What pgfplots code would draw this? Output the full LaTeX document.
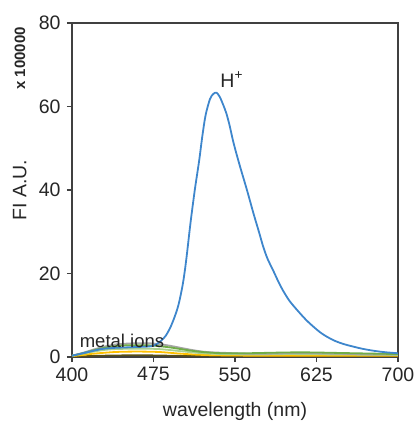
\documentclass[border=0pt]{standalone}
\usepackage{pgfplots}
\pgfplotsset{compat=1.18}
\usepackage{fontspec}
\setmainfont{Liberation Sans}
\definecolor{hblue}{RGB}{62,134,204}
\definecolor{mgray}{RGB}{165,165,165}
\definecolor{mgreen}{RGB}{112,173,71}
\definecolor{mlgreen}{RGB}{169,209,142}
\definecolor{myellow}{RGB}{255,192,0}
\definecolor{mdark}{RGB}{90,80,20}
\definecolor{axgray}{RGB}{64,64,64}
\begin{document}
\begin{tikzpicture}
\useasboundingbox (-72pt,-69pt) rectangle (345pt,357pt);
\begin{axis}[
  at={(0pt,0pt)}, anchor=south west,
  width=326pt, height=334pt, scale only axis,
  xmin=400, xmax=700, ymin=0, ymax=80,
  xtick={400,475,550,625,700}, ytick={0,20,40,60,80},
  tick align=outside, xtick pos=left, ytick pos=left,
  major tick length=5pt,
  axis line style={axgray, line width=1.2pt},
  every tick/.style={axgray, line width=1.2pt},
  tick label style={font=\fontsize{19.5}{23}\selectfont, text=black!85},
  xticklabel style={yshift=-2pt},
  yticklabel style={xshift=-3pt},
  /pgf/number format/assume math mode=true,
  xlabel={wavelength (nm)}, ylabel={FI A.U.},
  label style={font=\fontsize{19.5}{23}\selectfont, text=black!85},
  xlabel style={at={(axis description cs:0.5,-0.162)}, anchor=center},
  ylabel style={at={(axis description cs:-0.16,0.5)}, anchor=center},
  clip=false,
]
\addplot[mdark, line width=1.5pt, smooth] coordinates {(400,0.1)(420,0.3)(440,0.4)(460,0.45)(480,0.4)(500,0.3)(550,0.2)(600,0.2)(650,0.2)(700,0.2)};
\addplot[myellow, line width=1.8pt, smooth] coordinates {(400,0.2)(410,0.5)(420,0.8)(440,1.2)(460,1.3)(480,1.2)(500,0.8)(520,0.5)(550,0.35)(600,0.3)(650,0.3)(700,0.3)};
\addplot[mlgreen, line width=1.8pt, smooth] coordinates {(400,0.3)(410,0.8)(420,1.3)(430,1.7)(440,1.9)(460,2.0)(480,1.9)(500,1.4)(520,0.9)(540,0.7)(570,0.6)(600,0.7)(650,0.6)(700,0.5)};
\addplot[mgray, line width=1.8pt, smooth] coordinates {(400,0.3)(410,1.0)(420,1.8)(430,2.5)(440,3.0)(450,3.2)(460,3.3)(470,3.3)(480,3.1)(490,2.7)(500,2.2)(510,1.7)(520,1.3)(530,1.1)(540,1.0)(560,0.8)(580,0.8)(600,0.9)(620,0.9)(640,0.8)(660,0.7)(680,0.6)(700,0.6)};
\addplot[mgreen, line width=1.8pt, smooth] coordinates {(400,0.3)(410,0.9)(420,1.6)(430,2.2)(440,2.6)(450,2.8)(460,2.8)(470,2.8)(480,2.6)(490,2.3)(500,1.9)(510,1.5)(520,1.2)(530,1.0)(540,0.9)(560,0.9)(580,1.0)(600,1.1)(620,1.1)(640,1.0)(660,0.9)(680,0.8)(700,0.7)};
\addplot[hblue, line width=1.8pt, smooth] coordinates {
(400,0.3)(405,0.6)(410,0.9)(415,1.2)(420,1.5)(425,1.8)(430,2.0)(440,2.2)(450,2.3)(460,2.4)(470,2.5)(475,2.7)(478,3.1)(482,3.9)(486,5.0)(490,6.8)(494,9.3)(498,12.5)(502,17.5)(505,23)(509,32)(513,40)(517,47)(520,53)(523,58)(527,61.8)(530,63)(533,63.3)(536,62.3)(539,60.5)(542,58.4)(545,55.5)(548,52)(551,49)(555,45.3)(561,40)(567,34.4)(572,30)(576,26.4)(580,23.5)(585,20.8)(590,18)(594,16)(600,13.5)(607,11.3)(615,9)(622,7.3)(630,5.6)(640,4.1)(650,3.1)(665,2.1)(675,1.6)(683,1.3)(690,1.1)(700,0.9)};
\node[font=\fontsize{19.5}{23}\selectfont, text=black!85] at (axis cs:547,66.5) {H\textsuperscript{+}};
\node[font=\fontsize{18.5}{22}\selectfont, text=black!85] at (axis cs:446,3.9) {metal ions};
\node[font=\bfseries\fontsize{15}{18}\selectfont, rotate=90, text=black!85] at (axis cs:352,71.5) {x 100000};
\end{axis}
\end{tikzpicture}
\end{document}
